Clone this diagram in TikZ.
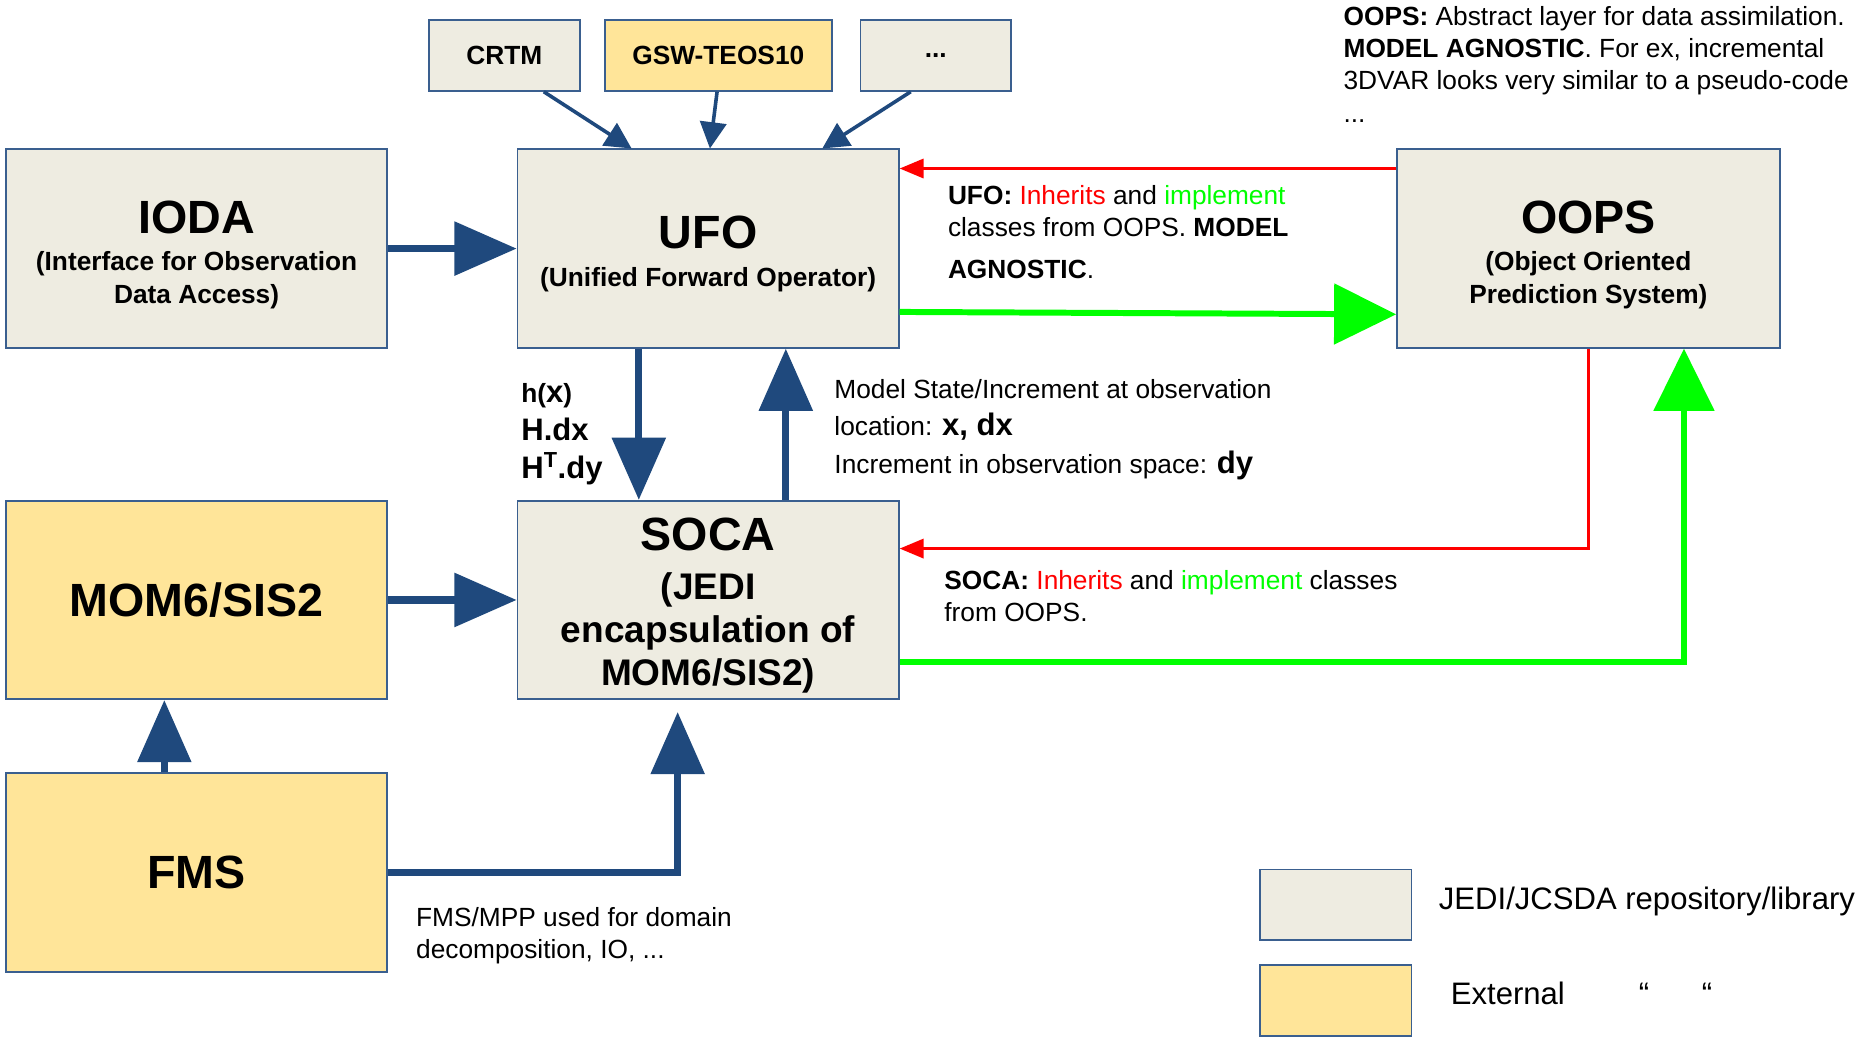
\documentclass[tikz,border=0pt]{standalone}
\usepackage{fontspec}
\setmainfont{Liberation Sans}
\usetikzlibrary{arrows.meta}
\definecolor{jedifill}{HTML}{EEECE1}
\definecolor{extfill}{HTML}{FFE599}
\definecolor{boxline}{HTML}{3A5F8F}
\definecolor{flowblue}{HTML}{1F497D}
\definecolor{inhred}{HTML}{FF0000}
\definecolor{impgreen}{HTML}{00FF00}
\newcommand{\fsz}[2]{\fontsize{#1}{#2}\selectfont}
\newcommand{\lift}[1]{\rule{0pt}{#1}}
\tikzset{
  repo/.style={draw=boxline, line width=1.5pt, fill=jedifill, inner sep=0pt,
    align=center, font=\bfseries\fsz{22}{27}},
  ext/.style={repo, fill=extfill},
  bigbox/.style={minimum width=319pt, minimum height=166pt},
  libbox/.style={minimum width=126pt, minimum height=59pt},
  keybox/.style={draw=boxline, line width=1.5pt, minimum width=127pt, minimum height=59pt},
  feed/.style={draw=flowblue, line width=6pt, -{Triangle[length=52pt,width=44pt]}},
  uses/.style={draw=flowblue, line width=3pt, -{Triangle[length=22pt,width=22pt]}},
  inherit/.style={draw=inhred, line width=2.5pt, -{Triangle[length=20pt,width=16pt]}},
  implement/.style={draw=impgreen, line width=5pt, -{Triangle[length=52pt,width=50pt]}},
  note/.style={anchor=north west, align=left, inner sep=0pt, font=\fsz{22}{27}},
  keytext/.style={anchor=west, inner sep=0pt, font=\fsz{26}{31}},
}
\begin{document}
\begin{tikzpicture}[x=1pt,y=-1pt]
\useasboundingbox (0,0) rectangle (1568,869);
% libraries used by UFO
\node[repo,libbox] (crtm) at (422,46.5) {CRTM};
\node[ext,libbox,minimum width=190pt] (gsw) at (601,46.5) {GSW-TEOS10};
\node[repo,libbox] (more) at (783,46.5) {...};
% main blocks
\node[repo,bigbox] (ioda) at (164.5,208) {{\fsz{39}{27}\lift{38pt}IODA}\\[4pt](Interface for Observation\\Data Access)};
\node[repo,bigbox] (ufo) at (592.5,208) {{\fsz{39}{27}\lift{36pt}UFO}\\[5pt](Unified Forward Operator)};
\node[repo,bigbox,minimum width=320pt] (oops) at (1329,208) {{\fsz{39}{27}\lift{38pt}OOPS}\\[4pt](Object Oriented\\Prediction System)};
\node[ext,bigbox] (mom) at (164.5,502) {\fsz{39}{27}MOM6/SIS2};
\node[repo,bigbox,font=\bfseries\fsz{31}{36}] (soca) at (592.5,502) {{\fsz{39}{36}\lift{37pt}SOCA}\\[5pt](JEDI\\encapsulation of\\MOM6/SIS2)};
\node[ext,bigbox] (fms) at (164.5,730) {\fsz{39}{27}FMS};
%
\node[note,font=\bfseries\fsz{26}{31.5}] (opnote) at (436,321) {{\fsz{22}{31.5}h(}x{\fsz{22}{31.5})}\\H.dx\\H\textsuperscript{T}.dy};
\node[note,font=\fsz{22}{31.5}] (obsnote) at (698,317) {Model State/Increment at observation\\location: {\bfseries\fsz{26}{31.5}x, dx}\\Increment in observation space: {\bfseries\fsz{26}{31.5}dy}};
\node[note] (ufonote) at (793,155) {\textbf{UFO:} \textcolor{inhred}{Inherits} and \textcolor{impgreen}{implement}\\classes from OOPS. \textbf{MODEL}\\[8pt]\textbf{AGNOSTIC}.};
\node[note] (socanote) at (790,477) {\textbf{SOCA:} \textcolor{inhred}{Inherits} and \textcolor{impgreen}{implement} classes\\from OOPS.};
\node[note] (oopsnote) at (1124,5) {\textbf{OOPS:} Abstract layer for data assimilation.\\\textbf{MODEL AGNOSTIC}. For ex, incremental\\3DVAR looks very similar to a pseudo-code\\...};
\node[note] (fmsnote) at (348,759) {FMS/MPP used for domain\\decomposition, IO, ...};
% legend
\node[keybox,fill=jedifill] (keyjedi) at (1117.5,757) {};
\node[keybox,fill=extfill] (keyext) at (1117.5,837) {};
\node[keytext] (keyjeditxt) at ([xshift=22pt,yshift=3pt]keyjedi.east) {JEDI/JCSDA repository/library};
\node[keytext] (keyexttxt) at ([xshift=32pt,yshift=5.5pt]keyext.east) {External\hspace{62pt}“\hspace{44pt}“};
% connectors
\draw[uses] ([xshift=33pt]crtm.south) -- ([xshift=-64pt]ufo.north);
\draw[uses] ([xshift=-1pt]gsw.south) -- ([xshift=1.5pt]ufo.north);
\draw[uses] ([xshift=-21pt]more.south) -- ([xshift=95.5pt]ufo.north);
\draw[feed] (ioda) -- (ufo);
\draw[feed] (mom) -- (soca);
\draw[feed] ([xshift=-58pt]ufo.south) -- ([xshift=-58pt]soca.north);
\draw[feed] ([xshift=65pt]soca.north) -- ([xshift=65pt]ufo.south);
\draw[feed] ([xshift=-27pt]fms.north) -- ([xshift=-27pt]mom.south);
\draw[feed] (fms.east) -| ([xshift=-25.5pt,yshift=-10pt]soca.south);
\draw[inherit] ([yshift=67pt]oops.west) -- ([yshift=67pt]ufo.east);
\draw[inherit] (oops.south) |- ([yshift=43pt]soca.east);
\draw[implement] ([yshift=-53pt]ufo.east) -- ([yshift=-55pt]oops.west);
\draw[implement] ([yshift=-52pt]soca.east) -| ([xshift=80pt]oops.south);
\end{tikzpicture}
\end{document}
